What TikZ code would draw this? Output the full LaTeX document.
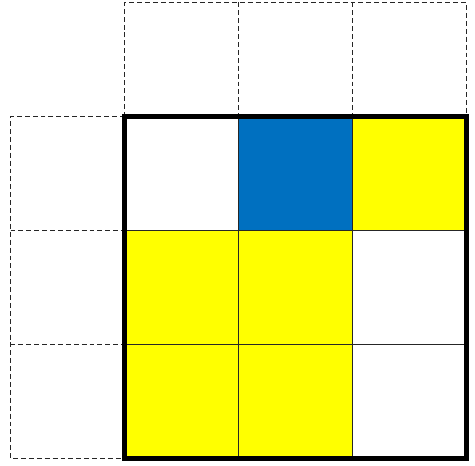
\documentclass[tikz,border=0pt]{standalone}
\usepackage{tikz}
\usetikzlibrary{positioning}
\definecolor{cellblue}{RGB}{0,112,192}
\definecolor{cellyellow}{RGB}{255,255,0}

\begin{document}
\begin{tikzpicture}[x=0.02cm,y=0.02cm,
  cell/.style={draw=black!85,line width=0.6pt,minimum size=2.28cm,inner sep=0pt,outer sep=0pt},
  ghost/.style={minimum size=2.28cm,inner sep=0pt,outer sep=0pt},
  ghostline/.style={draw=black!85,line width=0.7pt,dash pattern=on 2.8pt off 1.7pt}]
  \useasboundingbox (0,0) rectangle (475,465);
  % main grid
  \node[cell] (c00) at (181.5,291.5) {};
  \node[cell,fill=cellblue] (c01) at (295.5,291.5) {};
  \node[cell,fill=cellyellow] (c02) at (409.5,291.5) {};
  \node[cell,fill=cellyellow] (c10) at (181.5,177.5) {};
  \node[cell,fill=cellyellow] (c11) at (295.5,177.5) {};
  \node[cell] (c12) at (409.5,177.5) {};
  \node[cell,fill=cellyellow] (c20) at (181.5,63.5) {};
  \node[cell,fill=cellyellow] (c21) at (295.5,63.5) {};
  \node[cell] (c22) at (409.5,63.5) {};
  % dashed row above and column to the left
  \foreach \c/\x in {0/181.5,1/295.5,2/409.5}
    \node[ghost] (t\c) at (\x,405.5) {};
  \foreach \r/\y in {0/291.5,1/177.5,2/63.5}
    \node[ghost] (l\r) at (67.5,\y) {};
  \draw[ghostline] (t0.south west) |- (t2.north east) -- (t2.south east);
  \draw[ghostline] (t0.north east) -- (t0.south east);
  \draw[ghostline] (t1.north east) -- (t1.south east);
  \draw[ghostline] (l0.north east) -| (l2.south west) -- (l2.south east);
  \draw[ghostline] (l0.south west) -- (l0.south east);
  \draw[ghostline] (l1.south west) -- (l1.south east);
  % thick outline
  \draw[line width=2.8pt] (c00.north west) rectangle (c22.south east);
\end{tikzpicture}
\end{document}
